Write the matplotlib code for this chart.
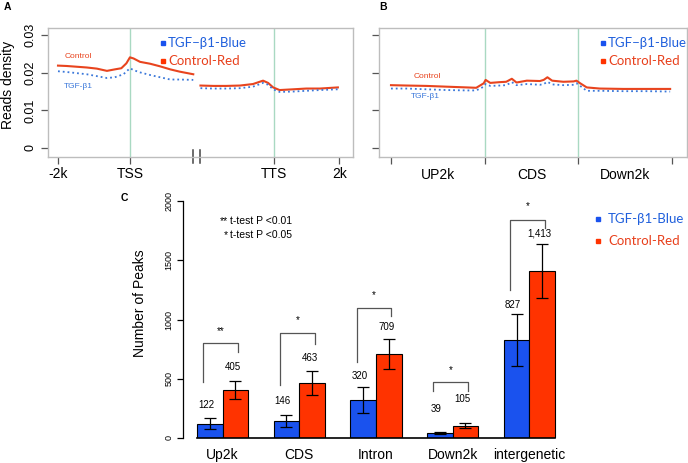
import matplotlib
matplotlib.use("Agg")
import matplotlib.pyplot as plt
import matplotlib.transforms as mtransforms

plt.rcParams['font.family'] = ['Liberation Sans', 'DejaVu Sans']

# ---- panel A: profile around TSS / TTS ----
a_pos1 = [0.0, 0.12, 0.26, 0.40, 0.54, 0.68, 0.79, 0.88, 0.95, 1.0, 1.05, 1.14, 1.28, 1.42, 1.56, 1.69, 1.88]
a_ctrl1 = [0.0219, 0.0218, 0.0216, 0.0214, 0.0211, 0.0205, 0.0209, 0.0212, 0.0225, 0.0241, 0.0238, 0.0229, 0.0224, 0.0217, 0.0209, 0.0203, 0.0196]
a_pos1b = [0.0, 0.12, 0.26, 0.40, 0.54, 0.68, 0.79, 0.91, 0.96, 1.0, 1.05, 1.14, 1.28, 1.42, 1.56, 1.69, 1.88]
a_tgf1 = [0.0204, 0.0202, 0.0199, 0.0196, 0.0191, 0.0186, 0.0188, 0.0196, 0.0205, 0.0212, 0.0207, 0.0201, 0.0194, 0.0188, 0.0182, 0.0182, 0.0181]
a_pos2 = [1.98, 2.16, 2.34, 2.53, 2.71, 2.85, 2.92, 2.99, 3.08, 3.27, 3.45, 3.64, 3.89]
a_ctrl2 = [0.0166, 0.0165, 0.0165, 0.0166, 0.0170, 0.0179, 0.0173, 0.0161, 0.0154, 0.0156, 0.0158, 0.0158, 0.0161]
a_tgf2 = [0.0159, 0.0158, 0.0158, 0.0159, 0.0163, 0.0173, 0.0168, 0.0156, 0.0149, 0.0150, 0.0152, 0.0154, 0.0156]
a_ticks = [0, 1, 3, 3.91]
a_ticklabels = ['-2k', 'TSS', 'TTS', '2k']
a_breaks = [1.87, 1.98]

# ---- panel B: metagene UP2k / CDS / Down2k ----
b_pos = [0, 0.17, 0.38, 0.59, 0.81, 0.91, 0.99, 1.01, 1.06, 1.16, 1.23, 1.29, 1.34, 1.45,
         1.59, 1.63, 1.67, 1.72, 1.84, 1.95, 1.98, 2.02, 2.09, 2.23, 2.48, 2.73, 2.98]
b_ctrl = [0.0167, 0.0166, 0.0165, 0.0163, 0.0161, 0.0160, 0.0172, 0.0181, 0.0173, 0.0175, 0.0176, 0.0184, 0.0174, 0.0179,
          0.0178, 0.0181, 0.0188, 0.0179, 0.0176, 0.0177, 0.0179, 0.0172, 0.0161, 0.0158, 0.0157, 0.0157, 0.0157]
b_tgf = [0.0158, 0.0158, 0.0156, 0.0154, 0.0153, 0.0153, 0.0163, 0.0170, 0.0165, 0.0166, 0.0167, 0.0175, 0.0167, 0.0170,
         0.0168, 0.0170, 0.0176, 0.0169, 0.0167, 0.0168, 0.0172, 0.0165, 0.0152, 0.0152, 0.0151, 0.0151, 0.0150]
b_regions = ['UP2k', 'CDS', 'Down2k']

# ---- panel C: number of peaks ----
categories = ['Up2k', 'CDS', 'Intron', 'Down2k', 'intergenetic']
tgf_peaks = [122, 146, 320, 39, 827]
ctrl_peaks = [405, 463, 709, 105, 1413]
tgf_err = [47, 50, 111, 8, 217]
ctrl_err = [73, 104, 130, 23, 228]
tgf_labels = ['122', '146', '320', '39', '827']
ctrl_labels = ['405', '463', '709', '105', '1,413']
tgf_label_y = [278, 315, 523, 243, 1122]
ctrl_label_y = [599, 678, 934, 329, 1722]
br_left = [475, 447, 644, 399, 1249]
br_top = [799, 883, 1100, 470, 1840]
br_right = [725, 793, 1029, 399, 1775]
stars = ['**', '*', '*', '*', '*']
star_y = [905, 995, 1207, 574, 1960]

RED = '#E8441E'
BLUE = '#3B78DA'
GREEN = '#A9D9C2'
BAR_BLUE = '#1A52EE'
BAR_RED = '#FF3300'
LEG_BLUE = '#1F5FDC'
LEG_RED = '#E8401C'

W, H = 688, 463
fig = plt.figure(figsize=(W / 100, H / 100), dpi=100)


def box(l, t, r, b):
    return [l / W, 1 - b / H, (r - l) / W, (b - t) / H]


def fx(px):
    return px / W


def fy(py):
    return 1 - py / H


def profile_axes(ax):
    for s in ax.spines.values():
        s.set_color('#BDBDBD')
        s.set_linewidth(1.0)
    ax.set_ylim(-0.0024, 0.0319)
    ax.set_yticks([0, 0.01, 0.02, 0.03])
    ax.tick_params(axis='both', which='major', direction='out', color='#555555',
                   length=5, width=0.9, labelsize=10)


# panel A
axA = fig.add_axes(box(48, 28, 353, 157))
profile_axes(axA)
axA.set_xlim(-0.139, 4.10)
axA.axvline(1, color=GREEN, lw=1)
axA.axvline(3, color=GREEN, lw=1)
axA.plot(a_pos1, a_ctrl1, color=RED, lw=1.5)
axA.plot(a_pos1b, a_tgf1, color=BLUE, lw=1.3, ls=':')
axA.plot(a_pos2, a_ctrl2, color=RED, lw=1.5)
axA.plot(a_pos2, a_tgf2, color=BLUE, lw=1.3, ls=':')
axA.set_xticks(a_ticks)
axA.set_xticklabels(a_ticklabels)
axA.tick_params(axis='x', pad=2)
axA.set_yticklabels(['0', '0.01', '0.02', '0.03'], rotation=90, va='center', fontsize=9)
axA.tick_params(axis='y', pad=3)
trA = mtransforms.blended_transform_factory(axA.transData, axA.transAxes)
for xb in a_breaks:
    axA.plot([xb, xb], [0.055, -0.05], color='#444444', lw=1.1, transform=trA, clip_on=False)

# panel B
axB = fig.add_axes(box(379, 28, 687, 157))
profile_axes(axB)
axB.set_xlim(-0.128, 3.16)
axB.axvline(1, color=GREEN, lw=1)
axB.axvline(2, color=GREEN, lw=1)
axB.plot(b_pos, b_ctrl, color=RED, lw=1.5)
axB.plot(b_pos, b_tgf, color=BLUE, lw=1.3, ls=':')
axB.set_xticks([0, 1, 2, 3])
axB.set_xticklabels([])
axB.set_xticks([0.5, 1.5, 2.5], minor=True)
axB.set_xticklabels(b_regions, minor=True)
axB.tick_params(axis='x', which='minor', length=0, pad=8, labelsize=10)
axB.set_yticklabels([])

# panel C
axC = fig.add_axes(box(183, 201, 560, 438))
axC.set_xlim(1 - 14 / 25.57, 15.2)
axC.set_ylim(0, 2000)
for s in ['top', 'right', 'bottom']:
    axC.spines[s].set_visible(False)
axC.spines['left'].set_bounds(0, 2000)
axC.spines['left'].set_linewidth(0.9)
axC.set_yticks([0, 500, 1000, 1500, 2000])
axC.set_yticklabels(['0', '500', '1000', '1500', '2000'], rotation=90, va='center', fontsize=6.5)
axC.tick_params(axis='y', length=4, width=0.9, pad=3)

xb = [3 * i + 1.5 for i in range(len(categories))]
xr = [3 * i + 2.5 for i in range(len(categories))]
axC.bar(xb, tgf_peaks, width=1, color=BAR_BLUE, edgecolor='black', lw=0.8)
axC.bar(xr, ctrl_peaks, width=1, color=BAR_RED, edgecolor='black', lw=0.8)
axC.errorbar(xb, tgf_peaks, yerr=tgf_err, fmt='none', ecolor='black', elinewidth=0.9, capsize=4.5, capthick=0.9)
axC.errorbar(xr, ctrl_peaks, yerr=ctrl_err, fmt='none', ecolor='black', elinewidth=0.9, capsize=4.5, capthick=0.9)
axC.plot([1, 3 * len(categories)], [0, 0], color='black', lw=1.2, clip_on=False)
axC.set_xticks([3 * i + 2 for i in range(len(categories))])
axC.set_xticklabels(categories, fontsize=10)
axC.tick_params(axis='x', length=0, pad=7)

for i in range(len(categories)):
    axC.text(xb[i] - 0.15, tgf_label_y[i], tgf_labels[i], ha='center', va='center', fontsize=7)
    axC.text(xr[i] - 0.1, ctrl_label_y[i], ctrl_labels[i], ha='center', va='center', fontsize=7)
    l = xb[i] - 0.25
    r = xr[i] + 0.1
    axC.plot([l, l, r, r], [br_left[i], br_top[i], br_top[i], br_right[i]],
             color='#555555', lw=0.9, clip_on=False)
    axC.text((l + r) / 2, star_y[i], stars[i], ha='center', va='center', fontsize=7, clip_on=False)

axC.text(2.22, 1834, '**', ha='right', va='center', fontsize=7.5)
axC.text(2.28, 1834, 't-test P <0.01', ha='left', va='center', fontsize=7.5)
axC.text(2.22, 1713, '*', ha='right', va='center', fontsize=7.5)
axC.text(2.28, 1713, 't-test P <0.05', ha='left', va='center', fontsize=7.5)

# labels and legends
fig.text(fx(8), fy(85), 'Reads density', rotation=90, ha='center', va='center', fontsize=10)
fig.text(fx(140), fy(303), 'Number of Peaks', rotation=90, ha='center', va='center', fontsize=10)
fig.text(fx(7), fy(7), 'A', fontsize=7.5, fontweight='bold', ha='center', va='center')
fig.text(fx(383), fy(7), 'B', fontsize=7.5, fontweight='bold', ha='center', va='center')
fig.text(fx(124), fy(198), 'C', fontsize=7.5, fontweight='bold', ha='center', va='center')

fig.text(fx(78), fy(57), 'Control', color=RED, fontsize=6, ha='center', va='center')
fig.text(fx(78), fy(86), 'TGF-β1', color=BLUE, fontsize=6, ha='center', va='center')
fig.text(fx(427), fy(77), 'Control', color=RED, fontsize=6, ha='center', va='center')
fig.text(fx(425), fy(97), 'TGF-β1', color=BLUE, fontsize=6, ha='center', va='center')

legends = [(163, 168, 43, 61, 'TGF−β1-Blue'), (603, 608, 43, 61, 'TGF−β1-Blue'),
           (598, 608, 219, 241, 'TGF-β1-Blue')]
for mx, tx, y1, y2, blue_name in legends:
    fig.lines.append(plt.Line2D([fx(mx)], [fy(y1)], marker='s', ms=3.5, color=BAR_BLUE, lw=0,
                                transform=fig.transFigure))
    fig.lines.append(plt.Line2D([fx(mx)], [fy(y2)], marker='s', ms=3.5, color=BAR_RED, lw=0,
                                transform=fig.transFigure))
    fig.text(fx(tx), fy(y1), blue_name, color=LEG_BLUE, fontsize=9.5, ha='left', va='center',
             family=['Lato', 'DejaVu Sans'])
    fig.text(fx(tx), fy(y2), 'Control-Red', color=LEG_RED, fontsize=9.5, ha='left', va='center',
             family=['Lato', 'DejaVu Sans'])

fig.savefig('out.png', dpi=100)
